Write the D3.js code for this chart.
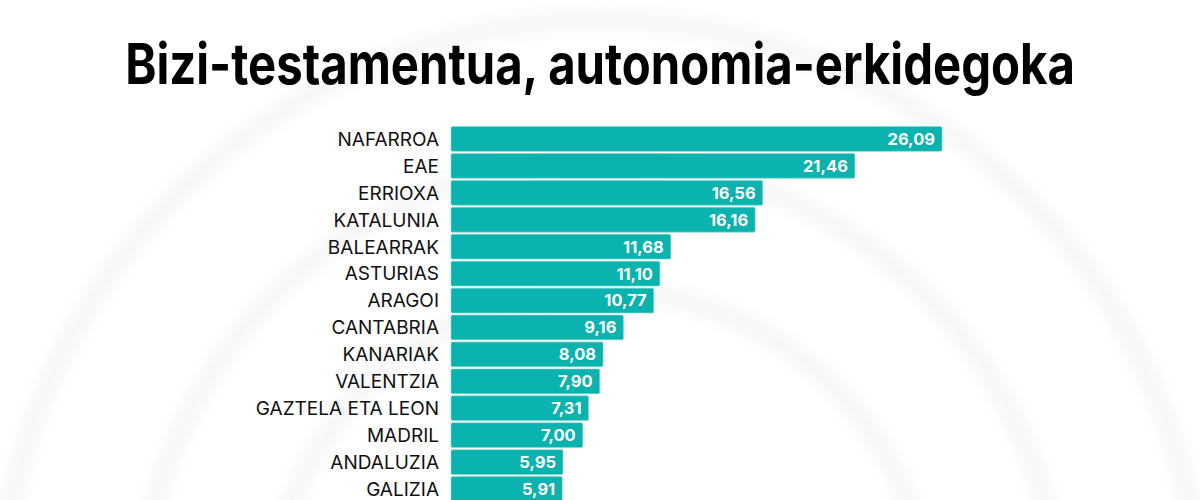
<!DOCTYPE html>
<html>
<head>
<meta charset="utf-8">
<script src="https://cdn.jsdelivr.net/npm/d3@7.9.0/dist/d3.min.js"></script>
<style>
  html, body { margin: 0; padding: 0; background: #fff; }
  svg { display: block; }
</style>
</head>
<body>
<svg id="chart" width="1200" height="500"></svg>
<script>
// data
const regions = ["NAFARROA", "EAE", "ERRIOXA", "KATALUNIA", "BALEARRAK", "ASTURIAS", "ARAGOI",
  "CANTABRIA", "KANARIAK", "VALENTZIA", "GAZTELA ETA LEON", "MADRIL", "ANDALUZIA", "GALIZIA"];
const values = [26.09, 21.46, 16.56, 16.16, 11.68, 11.10, 10.77, 9.16, 8.08, 7.90, 7.31, 7.00, 5.95, 5.91];
const title = "Bizi-testamentua, autonomia-erkidegoka";

const svg = d3.select("#chart");

// faint background rings
const defs = svg.append("defs");
defs.append("filter").attr("id", "soft")
  .attr("x", "-20%").attr("y", "-20%").attr("width", "140%").attr("height", "140%")
  .append("feGaussianBlur").attr("stdDeviation", 8);

const rings = svg.append("g").attr("filter", "url(#soft)");
[600, 460, 330].forEach(r => {
  rings.append("circle")
    .attr("cx", 600).attr("cy", 620).attr("r", r)
    .attr("fill", "none")
    .attr("stroke", "#f5f5f7")
    .attr("stroke-width", 16);
});

// title, squeezed horizontally to the reference width
const titleText = svg.append("text")
  .attr("x", 0).attr("y", 0)
  .attr("text-anchor", "middle")
  .attr("font-family", "Inter, 'DejaVu Sans', sans-serif")
  .attr("font-weight", 700)
  .attr("font-size", 56)
  .attr("fill", "#000")
  .text(title);
const tw = titleText.node().getComputedTextLength();
const sx = Math.min(1, 950 / tw);
titleText.attr("transform", `translate(600,84) scale(${sx},1)`);

// scales
const x0 = 451;
const step = 26.85;
const x = d3.scaleLinear().domain([0, 26.09]).range([x0, 942]);
const y = d3.scaleBand().domain(regions)
  .range([125.5, 125.5 + step * (regions.length + 0.04)])
  .paddingInner(0.08).paddingOuter(0.04);

const data = regions.map((r, i) => ({ region: r, value: values[i] }));

const rows = svg.append("g").selectAll("g").data(data).join("g");

rows.append("rect")
  .attr("x", x0)
  .attr("y", d => y(d.region))
  .attr("width", d => x(d.value) - x0)
  .attr("height", y.bandwidth())
  .attr("rx", 1.5)
  .attr("fill", "#0ab3ad")
  .attr("stroke", "#7fd6d2")
  .attr("stroke-width", 0.6);

rows.append("text")
  .attr("x", 439)
  .attr("y", d => y(d.region) + y.bandwidth() / 2)
  .attr("dy", "0.36em")
  .attr("text-anchor", "end")
  .attr("font-family", "Inter, 'DejaVu Sans', sans-serif")
  .attr("font-size", 19)
  .attr("fill", "#111")
  .text(d => d.region);

const fmt = v => d3.format(".2f")(v).replace(".", ",");

rows.append("text")
  .attr("x", d => x(d.value) - 7)
  .attr("y", d => y(d.region) + y.bandwidth() / 2)
  .attr("dy", "0.36em")
  .attr("text-anchor", "end")
  .attr("font-family", "Inter, 'DejaVu Sans', sans-serif")
  .attr("font-weight", 700)
  .attr("font-size", 16.5)
  .attr("fill", "#fff")
  .text(d => fmt(d.value));
</script>
</body>
</html>
